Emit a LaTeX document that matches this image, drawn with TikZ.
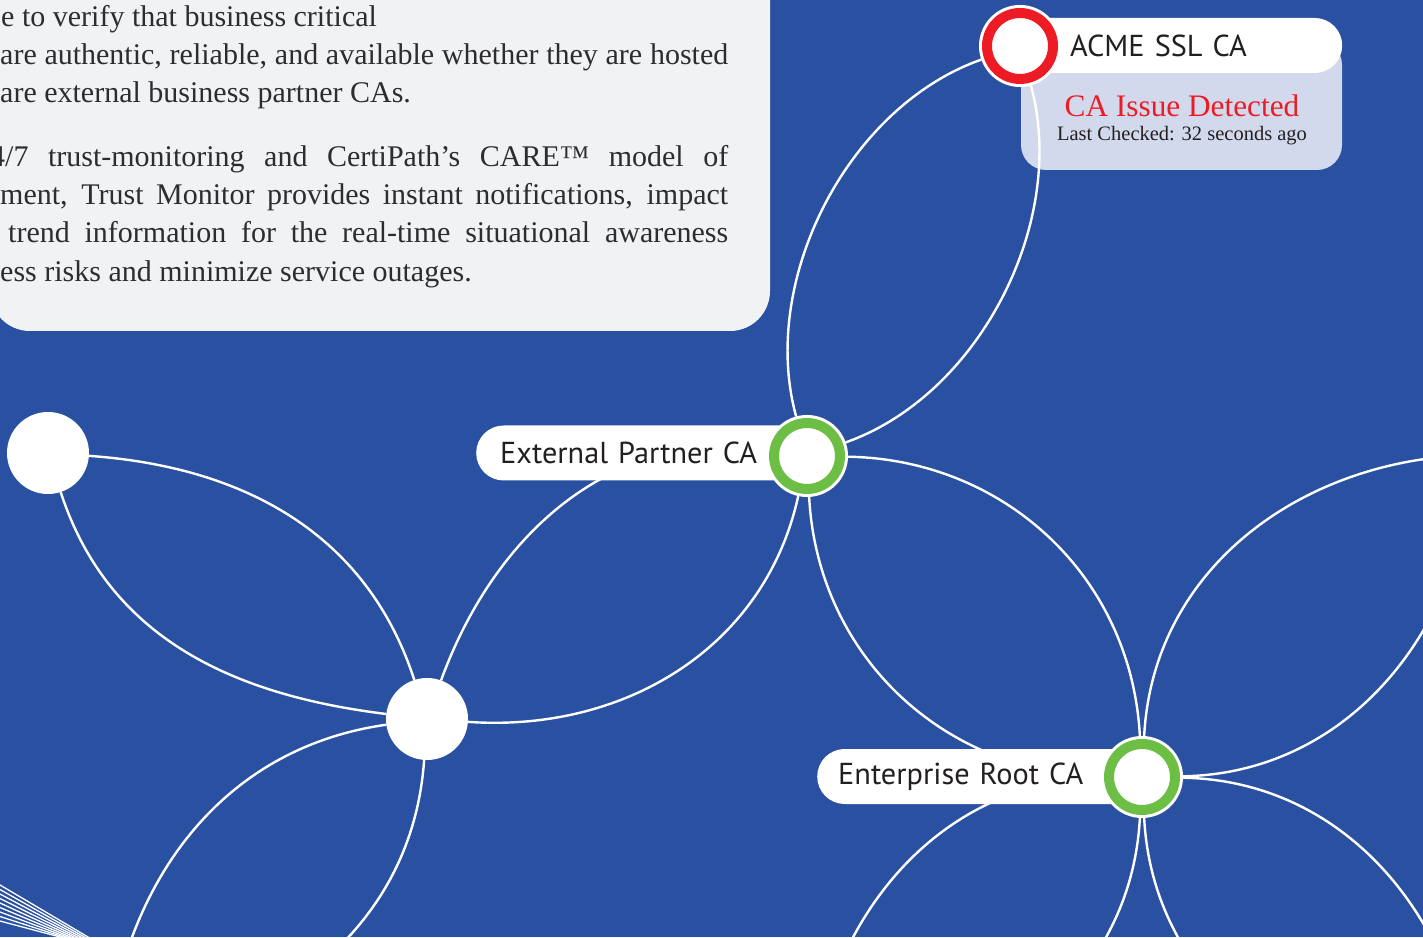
\documentclass[tikz,border=0pt]{standalone}
\usepackage{fontspec}
\setmainfont{Liberation Serif}
\newfontfamily\lblfont{PT Sans}
\definecolor{bgblue}{RGB}{41,80,161}
\definecolor{boxgrey}{RGB}{241,242,244}
\definecolor{okgreen}{RGB}{109,190,69}
\definecolor{alertred}{RGB}{237,28,36}
\definecolor{lavender}{RGB}{211,217,236}
\definecolor{inkdark}{RGB}{35,31,32}
\definecolor{bodyink}{RGB}{45,45,48}
\pgfdeclarelayer{back}
\pgfdeclarelayer{lines}
\pgfsetlayers{back,lines,main}
\tikzset{
  petal/.style={draw=white, line width=2.4pt},
  fanline/.style={draw=white, line width=1.3pt},
  okring/.style={circle, inner sep=0pt, minimum size=66pt, line width=10pt, draw=okgreen, fill=white, outer sep=8pt, preaction={draw=white, line width=16pt}},
  alertring/.style={okring, draw=alertred},
  plaindot/.style={circle, inner sep=0pt, minimum size=82pt, fill=white, outer sep=0pt},
  pill/.style={rounded corners=27.5pt, fill=white, inner ysep=0pt, minimum height=55pt, font=\lblfont\fontsize{30.3}{34}\selectfont, text=inkdark, align=left, anchor=west},
  bodyline/.style={anchor=base west, inner sep=0pt, font=\fontsize{30}{38}\selectfont, text=bodyink},
}
\begin{document}
\begin{tikzpicture}[x=1pt,y=1pt]
\useasboundingbox (0,0) rectangle (1423,937);
\begin{pgfonlayer}{back}
  \fill[bgblue] (0,0) rectangle (1423,937);
  \fill[boxgrey] (-10,947) -- (770,947) {[rounded corners=40pt] -- (770,606) -- (-10,606)} -- cycle;
  \node[fill=lavender, rounded corners=25pt, minimum width=321pt, minimum height=130pt, inner sep=0pt] (statusbox) at (1181.5,832) {};
\end{pgfonlayer}

% body text
\node[bodyline] (t1) at (1,910) {e to verify that business critical};
\node[bodyline] (t2) at (0,872) {\hbox to 728pt{are authentic, reliable, and available whether they are hosted}};
\node[bodyline] (t3) at (0,834) {are external business partner CAs.};
\node[bodyline] (t4) at (-10,770) {\hbox to 738pt{4/7 trust-monitoring and CertiPath’s CARE™ model of}};
\node[bodyline] (t5) at (0,732) {\hbox to 728pt{ment, Trust Monitor provides instant notifications, impact}};
\node[bodyline] (t6) at (8,694) {\hbox to 720pt{trend information for the real-time situational awareness}};
\node[bodyline] (t7) at (0,655) {ess risks and minimize service outages.};

% status texts
\node[font=\fontsize{31.3}{34}\selectfont, text=alertred, anchor=base, inner sep=0pt] (issue) at (1182,820) {CA Issue Detected};
\node[font=\fontsize{20.5}{24}\selectfont, text=inkdark, anchor=base, inner sep=0pt] (checked) at (1182,796) {Last Checked: 32 seconds ago};

% nodes
\node[plaindot] (w1) at (48,484) {};
\node[plaindot] (w2) at (427,218) {};
\node[pill, text width=283pt, inner xsep=24pt] (extlbl) at (476,484) {External Partner CA};
\node[okring] (ext) at (807,481) {};
\node[pill, text width=283pt, inner xsep=21pt] (entlbl) at (817,160.5) {Enterprise Root CA};
\node[okring] (ent) at (1142,160) {};
\node[pill, text width=222pt, inner xsep=50pt] (acmelbl) at (1020,891.5) {ACME SSL CA};
\node[alertring] (acme) at (1020,891) {};

\coordinate (pC) at (1475,482);
\coordinate (pD) at (1475,-162);
\coordinate (pE) at (809,-162);
\coordinate (pH) at (105,-123);

\begin{pgfonlayer}{lines}
  \draw[petal] (acme) to[out=199.5,in=105.5,looseness=0.9] (ext);
  \draw[petal] (acme) to[out=285.5,in=19.5,looseness=0.9] (ext);
  \draw[petal] (ext) to[out=-1,in=93] (ent);
  \draw[petal] (ext) to[out=273,in=179] (ent);
  \draw[petal] (ent) to[out=87,in=181] (pC);
  \draw[petal] (ent) to[out=1,in=267] (pC);
  \draw[petal] (ent) to[out=-1,in=93] (pD);
  \draw[petal] (ent) to[out=273,in=179] (pD);
  \draw[petal] (ent) to[out=181,in=87] (pE);
  \draw[petal] (ent) to[out=267,in=1] (pE);
  \draw[petal] (ext) to[out=171.8,in=70] (w2);
  \draw[petal] (ext) to[out=257.8,in=356] (w2);
  \draw[petal] (w2) to[out=108,in=356] (w1);
  \draw[petal] (w2) to[out=173,in=288] (w1);
  \draw[petal] (w2) to[out=188,in=85] (pH);
  \draw[petal] (w2) to[out=266,in=11] (pH);
  \foreach \k in {0,...,8}{
    \pgfmathsetmacro{\fa}{52-4.5*\k}
    \pgfmathsetmacro{\fb}{88-3.5*\k}
    \draw[fanline] ({-0.1*\fb},{1.1*\fa}) -- ({1.2*\fb},{-0.2*\fa});
  }
\end{pgfonlayer}
\end{tikzpicture}
\end{document}
